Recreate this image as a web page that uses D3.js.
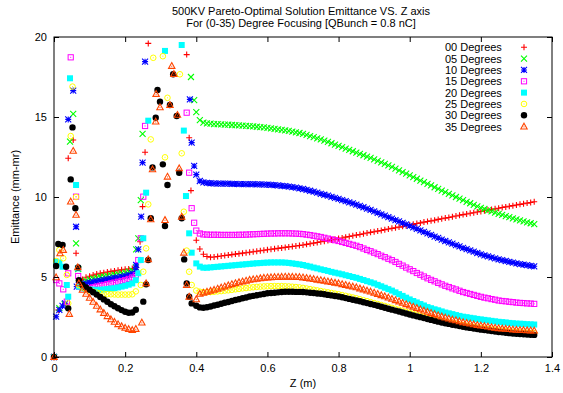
<!DOCTYPE html>
<html><head><meta charset="utf-8">
<script src="https://cdn.jsdelivr.net/npm/d3@7"></script>
<style>body{margin:0;background:#fff}svg{display:block}text{font-family:"Liberation Sans",Arial,Helvetica,sans-serif;font-size:11px;fill:#000}</style>
</head><body><svg id="c" width="563" height="393"></svg>
<script>
const titleLines = ["500KV Pareto-Optimal Solution Emittance VS. Z axis", "For (0-35) Degree Focusing [QBunch = 0.8 nC]"];
const xLabel = "Z (m)";
const yLabel = "Emittance (mm-mr)";
const xTicks = [0, 0.2, 0.4, 0.6, 0.8, 1.0, 1.2, 1.4];
const xTickLabels = ["0", "0.2", "0.4", "0.6", "0.8", "1", "1.2", "1.4"];
const yTicks = [0, 5, 10, 15, 20];
const yTickLabels = ["0", "5", "10", "15", "20"];
const seriesNames = ["00 Degrees", "05 Degrees", "10 Degrees", "15 Degrees", "20 Degrees", "25 Degrees", "30 Degrees", "35 Degrees"];
const seriesColors = ["#ff0000", "#00ff00", "#0000ff", "#ff00ff", "#00ffff", "#ffff00", "#000000", "#ff4500"];
const seriesSymbols = ["plus", "cross", "star", "openSquare", "square", "openCircle", "circle", "openTriangle"];

// z positions of the two regularly sampled stretches
const zCurve = d3.range(7, 24).map(i => i / 100);   // 0.07 .. 0.23
const zTail = d3.range(40, 136).map(i => i / 100);  // 0.40 .. 1.35

// scattered points (z, emittance), early region and middle region
const scatter00 = [[0,0],[0.012,2.94],[0.040,12.42],[0.054,13.56],[0.062,6.48],[0.242,7.2],[0.249,9.4],[0.256,12.8],[0.265,19.6],[0.373,18.9],[0.380,13.7],[0.385,10.4]];
const scatter05 = [[0,0],[0.015,3.05],[0.030,3.3],[0.045,13.46],[0.054,15.19],[0.062,7.1],[0.068,5.5],[0.231,6.73],[0.237,7.42],[0.244,9.81],[0.249,13.94],[0.385,17.5],[0.394,16.06]];
const scatter10 = [[0,0],[0.006,2.52],[0.015,2.94],[0.024,3.19],[0.031,3.35],[0.040,14.85],[0.054,16.65],[0.062,8.14],[0.064,4.4],[0.231,5.75],[0.237,6.73],[0.245,8.77],[0.249,12.15],[0.256,18.46],[0.382,16.1],[0.387,13.4],[0.394,11.94]];
const scatter15 = [[0,0],[0.006,4.81],[0.015,4.6],[0.026,4.23],[0.036,3.46],[0.040,5.23],[0.047,18.73],[0.062,10.02],[0.068,5.06],[0.237,6.06],[0.244,7.42],[0.251,10.02],[0.256,14.44],[0.373,15.27],[0.380,11.52],[0.387,9.3],[0.394,8.39]];
const scatter20 = [[0,0],[0.006,5.96],[0.015,5.9],[0.024,5.64],[0.036,4.5],[0.040,3.77],[0.045,17.42],[0.062,10.75],[0.067,5.54],[0.237,5.23],[0.244,6.06],[0.251,7.42],[0.259,10.27],[0.265,14.77],[0.312,19.13],[0.359,19.5],[0.365,14.15],[0.371,10.06],[0.380,7.73],[0.387,6.52]];
const scatter25 = [[0,0],[0.006,6.0],[0.015,6.69],[0.026,6.17],[0.036,5.13],[0.040,3.35],[0.047,13.81],[0.052,16.9],[0.062,10.0],[0.244,4.5],[0.251,5.33],[0.259,6.79],[0.265,9.54],[0.272,13.6],[0.279,18.7],[0.306,18.8],[0.312,12.48],[0.319,16.2],[0.354,17.67],[0.359,12.73],[0.365,9.08],[0.373,6.65],[0.380,5.33],[0.387,4.5]];
const scatter30 = [[0,0],[0.006,5.69],[0.012,7.06],[0.024,7.0],[0.034,5.64],[0.040,3.04],[0.047,11.1],[0.052,14.35],[0.060,9.3],[0.068,5.6],[0.251,3.46],[0.259,4.54],[0.265,6.06],[0.272,8.67],[0.277,11.85],[0.286,14.96],[0.291,16.69],[0.298,15.96],[0.306,12.04],[0.312,8.19],[0.319,10.75],[0.326,15.75],[0.335,17.67],[0.345,15.06],[0.352,11.52],[0.359,8.67],[0.366,6.1],[0.373,4.6],[0.380,3.77],[0.387,3.35]];
const scatter35 = [[0,0],[0.006,4.98],[0.017,6.48],[0.026,6.69],[0.043,2.69],[0.047,9.71],[0.054,12.88],[0.062,8.88],[0.067,5.6],[0.247,2.15],[0.259,4.6],[0.265,6.1],[0.272,8.6],[0.277,11.73],[0.286,14.71],[0.287,16.44],[0.298,15.6],[0.312,8.56],[0.319,11.27],[0.326,15.75],[0.331,18.19],[0.337,17.69],[0.347,15.13],[0.352,11.79],[0.359,8.77],[0.365,6.52],[0.373,4.5],[0.380,3.77]];

// emittance along zCurve (0.07..0.23)
const curve00 = [4.7,4.85,4.98,5.05,5.12,5.18,5.23,5.27,5.31,5.35,5.38,5.42,5.45,5.48,5.5,5.53,5.6];
const curve05 = [4.6,4.7,4.78,4.85,4.9,4.95,5.0,5.03,5.07,5.1,5.14,5.18,5.22,5.27,5.33,5.42,5.6];
const curve10 = [4.5,4.55,4.6,4.65,4.7,4.74,4.78,4.82,4.86,4.9,4.94,4.98,5.02,5.07,5.13,5.22,5.45];
const curve15 = [4.4,4.3,4.28,4.3,4.35,4.4,4.45,4.5,4.55,4.6,4.65,4.7,4.75,4.8,4.88,4.97,5.1];
const curve20 = [4.4,4.3,4.25,4.22,4.2,4.2,4.2,4.22,4.25,4.28,4.3,4.35,4.4,4.45,4.52,4.6,4.8];
const curve25 = [4.5,4.35,4.25,4.15,4.08,4.02,3.98,3.95,3.93,3.92,3.91,3.9,3.9,3.9,3.9,3.92,4.1];
const curve30 = [4.8,4.5,4.35,4.2,4.05,3.9,3.75,3.6,3.45,3.3,3.17,3.05,2.93,2.83,2.77,2.78,2.95];
const curve35 = [4.6,4.2,3.95,3.7,3.45,3.2,2.97,2.75,2.55,2.35,2.2,2.05,1.92,1.82,1.74,1.68,1.75];

// emittance along zTail (0.40..1.35)
const tail00 = [7.30,6.75,6.42,6.28,6.23,6.25,6.28,6.31,6.34,6.37,
6.40,6.43,6.46,6.49,6.52,6.55,6.58,6.61,6.64,6.67,
6.70,6.73,6.76,6.79,6.82,6.85,6.88,6.91,6.94,6.97,
7.00,7.04,7.08,7.12,7.16,7.20,7.24,7.28,7.32,7.36,
7.40,7.44,7.49,7.53,7.58,7.62,7.66,7.70,7.75,7.79,
7.83,7.87,7.91,7.96,8.00,8.04,8.08,8.12,8.17,8.21,
8.25,8.29,8.34,8.38,8.43,8.47,8.51,8.55,8.60,8.64,
8.68,8.72,8.77,8.81,8.86,8.90,8.94,8.98,9.02,9.06,
9.10,9.14,9.18,9.22,9.26,9.30,9.34,9.38,9.42,9.46,
9.50,9.54,9.58,9.62,9.66,9.70];
const tail05 = [15.30,14.80,14.65,14.60,14.58,14.56,14.55,14.54,14.53,14.52,
14.50,14.49,14.48,14.46,14.45,14.43,14.41,14.39,14.37,14.35,
14.32,14.29,14.26,14.23,14.20,14.17,14.13,14.09,14.04,14.00,
13.95,13.88,13.81,13.74,13.67,13.60,13.52,13.44,13.36,13.28,
13.20,13.12,13.03,12.95,12.86,12.78,12.69,12.61,12.52,12.44,
12.35,12.26,12.16,12.07,11.97,11.88,11.77,11.67,11.56,11.46,
11.35,11.24,11.14,11.03,10.93,10.82,10.72,10.61,10.51,10.40,
10.30,10.20,10.10,10.00,9.90,9.80,9.70,9.61,9.51,9.42,
9.32,9.25,9.17,9.10,9.02,8.95,8.88,8.81,8.74,8.67,
8.60,8.54,8.48,8.42,8.36,8.30];
const tail10 = [11.40,11.00,10.92,10.88,10.86,10.85,10.84,10.84,10.83,10.83,
10.82,10.82,10.81,10.81,10.80,10.80,10.80,10.79,10.79,10.78,
10.77,10.76,10.74,10.72,10.70,10.68,10.65,10.62,10.58,10.54,
10.50,10.45,10.39,10.33,10.27,10.20,10.14,10.08,10.01,9.95,
9.88,9.81,9.74,9.67,9.60,9.52,9.44,9.36,9.27,9.19,
9.10,9.01,8.92,8.83,8.74,8.65,8.56,8.47,8.38,8.29,
8.20,8.10,8.01,7.91,7.82,7.72,7.63,7.53,7.44,7.34,
7.25,7.16,7.08,6.99,6.91,6.82,6.74,6.66,6.58,6.50,
6.42,6.35,6.29,6.22,6.16,6.10,6.05,6.00,5.95,5.90,
5.85,5.81,5.77,5.74,5.70,5.67];
const tail15 = [7.90,7.72,7.66,7.65,7.64,7.64,7.64,7.63,7.63,7.63,
7.63,7.63,7.64,7.64,7.65,7.66,7.67,7.68,7.69,7.70,
7.71,7.72,7.72,7.73,7.73,7.73,7.73,7.72,7.71,7.70,
7.68,7.65,7.62,7.58,7.54,7.50,7.45,7.40,7.35,7.30,
7.25,7.19,7.13,7.07,7.01,6.95,6.87,6.78,6.69,6.61,
6.52,6.43,6.33,6.24,6.14,6.05,5.94,5.82,5.71,5.59,
5.48,5.37,5.25,5.14,5.03,4.92,4.82,4.73,4.63,4.54,
4.45,4.37,4.29,4.22,4.14,4.06,4.00,3.94,3.88,3.82,
3.76,3.71,3.67,3.62,3.58,3.53,3.50,3.48,3.45,3.43,
3.40,3.38,3.37,3.35,3.34,3.32];
const tail20 = [5.85,5.65,5.58,5.58,5.60,5.62,5.64,5.66,5.68,5.70,
5.72,5.74,5.76,5.78,5.80,5.82,5.84,5.86,5.87,5.89,
5.90,5.91,5.91,5.91,5.91,5.90,5.88,5.85,5.82,5.79,
5.75,5.70,5.65,5.59,5.54,5.48,5.43,5.38,5.32,5.27,
5.22,5.17,5.11,5.06,5.00,4.95,4.88,4.81,4.74,4.67,
4.60,4.51,4.42,4.33,4.24,4.15,4.04,3.93,3.82,3.71,
3.60,3.50,3.41,3.31,3.22,3.12,3.05,2.98,2.92,2.85,
2.78,2.73,2.68,2.62,2.57,2.52,2.49,2.45,2.42,2.38,
2.35,2.32,2.29,2.26,2.23,2.20,2.18,2.16,2.13,2.11,
2.09,2.08,2.07,2.05,2.04,2.03];
const tail25 = [4.15,4.08,4.05,4.05,4.06,4.08,4.10,4.12,4.15,4.17,
4.20,4.23,4.26,4.29,4.31,4.34,4.36,4.38,4.40,4.41,
4.42,4.43,4.43,4.43,4.43,4.42,4.41,4.39,4.37,4.35,
4.32,4.28,4.24,4.20,4.16,4.12,4.08,4.04,4.00,3.96,
3.92,3.87,3.82,3.77,3.72,3.67,3.61,3.55,3.49,3.43,
3.37,3.31,3.25,3.19,3.13,3.07,3.01,2.95,2.88,2.82,
2.76,2.70,2.64,2.58,2.52,2.46,2.41,2.36,2.30,2.25,
2.20,2.16,2.11,2.07,2.02,1.98,1.94,1.91,1.87,1.84,
1.80,1.77,1.74,1.72,1.69,1.66,1.64,1.62,1.59,1.57,
1.55,1.54,1.52,1.51,1.49,1.48];
const tail30 = [3.20,3.10,3.08,3.11,3.16,3.22,3.27,3.33,3.39,3.44,
3.50,3.56,3.61,3.67,3.72,3.78,3.82,3.86,3.90,3.94,
3.98,4.00,4.02,4.04,4.06,4.08,4.08,4.08,4.07,4.07,
4.06,4.04,4.02,4.00,3.97,3.95,3.92,3.88,3.85,3.81,
3.78,3.73,3.68,3.63,3.58,3.53,3.48,3.42,3.37,3.31,
3.26,3.20,3.14,3.08,3.02,2.96,2.90,2.84,2.78,2.72,
2.66,2.60,2.54,2.49,2.43,2.37,2.32,2.27,2.21,2.16,
2.11,2.07,2.02,1.98,1.93,1.89,1.85,1.82,1.78,1.75,
1.71,1.68,1.65,1.62,1.59,1.56,1.54,1.52,1.49,1.47,
1.45,1.44,1.42,1.41,1.39,1.38];
const tail35 = [3.60,3.95,4.02,4.08,4.14,4.20,4.27,4.34,4.41,4.48,
4.55,4.61,4.67,4.72,4.77,4.82,4.85,4.88,4.92,4.95,
4.97,4.98,4.99,5.00,5.01,5.02,5.02,5.01,5.00,4.99,
4.97,4.94,4.90,4.87,4.83,4.80,4.76,4.72,4.68,4.64,
4.60,4.55,4.50,4.45,4.40,4.35,4.28,4.22,4.15,4.09,
4.02,3.94,3.86,3.79,3.71,3.63,3.55,3.47,3.38,3.30,
3.22,3.14,3.06,2.98,2.90,2.82,2.75,2.68,2.60,2.53,
2.46,2.40,2.34,2.29,2.23,2.17,2.13,2.09,2.04,2.00,
1.96,1.93,1.90,1.86,1.83,1.80,1.78,1.76,1.74,1.72,
1.70,1.69,1.68,1.67,1.66,1.65];

const scatters = [scatter00, scatter05, scatter10, scatter15, scatter20, scatter25, scatter30, scatter35];
const curves = [curve00, curve05, curve10, curve15, curve20, curve25, curve30, curve35];
const tails = [tail00, tail05, tail10, tail15, tail20, tail25, tail30, tail35];

const series = seriesNames.map((name, i) => ({
  name, color: seriesColors[i], symbol: seriesSymbols[i],
  points: scatters[i].map(([z, e]) => ({z, e}))
    .concat(zCurve.map((z, k) => ({z, e: curves[i][k]})))
    .concat(zTail.map((z, k) => ({z, e: tails[i][k]})))
}));

const svg = d3.select("#c");
const L = 54, R = 552, T = 37, B = 357;
const x = d3.scaleLinear().domain([0, 1.4]).range([L, R]);
const y = d3.scaleLinear().domain([0, 20]).range([B, T]);

function drawSymbol(g, type, color) {
  const s = 3;
  if (type === "plus") {
    g.append("path").attr("d", `M${-s},0H${s}M0,${-s}V${s}`).attr("stroke", color).attr("stroke-width", 1.1).attr("fill", "none");
  } else if (type === "cross") {
    g.append("path").attr("d", `M${-s},${-s}L${s},${s}M${-s},${s}L${s},${-s}`).attr("stroke", color).attr("stroke-width", 1.1).attr("fill", "none");
  } else if (type === "star") {
    g.append("path").attr("d", `M${-s},0H${s}M0,${-s}V${s}M${-s},${-s}L${s},${s}M${-s},${s}L${s},${-s}`).attr("stroke", color).attr("stroke-width", 1.1).attr("fill", "none");
  } else if (type === "openSquare") {
    g.append("rect").attr("x", -2.6).attr("y", -2.6).attr("width", 5.2).attr("height", 5.2).attr("stroke", color).attr("stroke-width", 1).attr("fill", "none");
    g.append("rect").attr("x", -0.5).attr("y", -0.5).attr("width", 1).attr("height", 1).attr("fill", color);
  } else if (type === "square") {
    g.append("rect").attr("x", -3).attr("y", -3).attr("width", 6).attr("height", 6).attr("fill", color);
  } else if (type === "openCircle") {
    g.append("circle").attr("r", 2.8).attr("stroke", color).attr("stroke-width", 1).attr("fill", "none");
    g.append("rect").attr("x", -0.5).attr("y", -0.5).attr("width", 1).attr("height", 1).attr("fill", color);
  } else if (type === "circle") {
    g.append("circle").attr("r", 3.2).attr("fill", color);
  } else if (type === "openTriangle") {
    g.append("path").attr("d", "M0,-3.4L3.2,2.4L-3.2,2.4Z").attr("stroke", color).attr("stroke-width", 1.1).attr("fill", "none");
    g.append("rect").attr("x", -0.5).attr("y", -0.2).attr("width", 1).attr("height", 1).attr("fill", color);
  }
}

// points
const plot = svg.append("g");
series.forEach(s => {
  const sg = plot.append("g");
  s.points.forEach(p => {
    const g = sg.append("g").attr("transform", `translate(${x(p.z)},${y(p.e)})`);
    drawSymbol(g, s.symbol, s.color);
  });
});

// axes (inward ticks on all sides)
const tickLen = 5;
const axB = d3.axisBottom(x).tickValues(xTicks).tickSize(-tickLen).tickPadding(7).tickFormat((d, i) => xTickLabels[i]);
const axT = d3.axisTop(x).tickValues(xTicks).tickSize(-tickLen).tickFormat("");
const axLf = d3.axisLeft(y).tickValues(yTicks).tickSize(-tickLen).tickPadding(7).tickFormat((d, i) => yTickLabels[i]);
const axRt = d3.axisRight(y).tickValues(yTicks).tickSize(-tickLen).tickFormat("");
function styleAxis(g) {
  g.select(".domain").remove();
  g.selectAll("line").attr("stroke", "#000");
  g.selectAll("text").attr("font-size", 11).attr("font-family", '"Liberation Sans",Arial,sans-serif').attr("fill", "#000");
}
svg.append("g").attr("transform", `translate(0,${B})`).call(axB).call(styleAxis);
svg.append("g").attr("transform", `translate(0,${T})`).call(axT).call(styleAxis);
svg.append("g").attr("transform", `translate(${L},0)`).call(axLf).call(styleAxis);
svg.append("g").attr("transform", `translate(${R},0)`).call(axRt).call(styleAxis);

svg.append("rect").attr("x", L).attr("y", T).attr("width", R - L).attr("height", B - T)
  .attr("fill", "none").attr("stroke", "#000").attr("stroke-width", 1);

// titles
svg.append("text").attr("x", 301).attr("y", 15).attr("text-anchor", "middle").text(titleLines[0]);
svg.append("text").attr("x", 301).attr("y", 27).attr("text-anchor", "middle").text(titleLines[1]);
svg.append("text").attr("x", 303).attr("y", 387).attr("text-anchor", "middle").text(xLabel);
svg.append("text").attr("transform", "translate(19,197) rotate(-90)").attr("text-anchor", "middle").text(yLabel);

// legend
const leg = svg.append("g");
series.forEach((s, i) => {
  const cy = 47.3 + i * 11.33;
  leg.append("text").attr("x", 445).attr("y", cy).attr("dy", "0.36em").text(s.name);
  const g = leg.append("g").attr("transform", `translate(524,${cy})`);
  drawSymbol(g, s.symbol, s.color);
});
</script></body></html>
